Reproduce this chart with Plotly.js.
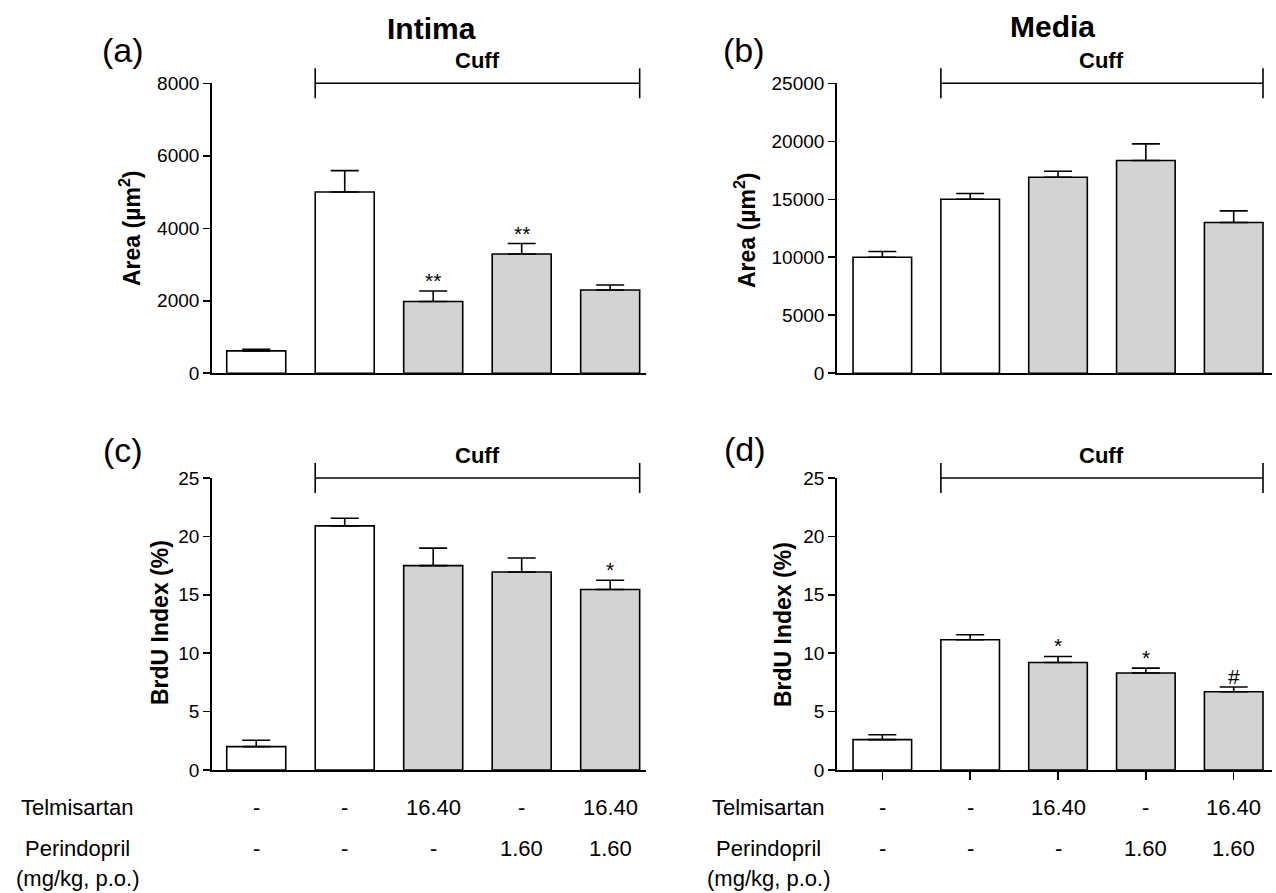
<!DOCTYPE html>
<html>
<head>
<meta charset="utf-8">
<script src="https://cdn.plot.ly/plotly-3.0.1.min.js"></script>
<style>html,body{margin:0;padding:0;background:#fff;}#chart{width:1276px;height:893px;}</style>
</head>
<body>
<div id="chart"></div>
<script>
// ---------------- DATA ----------------
const groups = ['Sham', 'Cuff + vehicle', 'Cuff + telmisartan', 'Cuff + perindopril', 'Cuff + combination'];

// (a) Intima area (µm²)
const intimaArea = [620, 5000, 1980, 3290, 2300];
const intimaAreaErr = [45, 590, 290, 290, 135];
const intimaAreaSig = ['', '', '**', '**', ''];

// (b) Media area (µm²)
const mediaArea = [10000, 15000, 16900, 18350, 13000];
const mediaAreaErr = [500, 500, 520, 1430, 1000];
const mediaAreaSig = ['', '', '', '', ''];

// (c) Intima BrdU index (%)
const intimaBrdU = [2.0, 20.9, 17.5, 16.95, 15.45];
const intimaBrdUErr = [0.55, 0.65, 1.5, 1.2, 0.8];
const intimaBrdUSig = ['', '', '', '', '*'];

// (d) Media BrdU index (%)
const mediaBrdU = [2.6, 11.15, 9.2, 8.3, 6.7];
const mediaBrdUErr = [0.42, 0.43, 0.52, 0.42, 0.4];
const mediaBrdUSig = ['', '', '*', '*', '#'];

// tick values
const areaTicksIntima = [0, 2000, 4000, 6000, 8000];
const areaTicksMedia = [0, 5000, 10000, 15000, 20000, 25000];
const brduTicks = [0, 5, 10, 15, 20, 25];

// treatment table
const telmisartanDose = ['-', '-', '16.40', '-', '16.40'];
const perindoprilDose = ['-', '-', '-', '1.60', '1.60'];
const rowLabels = ['Telmisartan', 'Perindopril', '(mg/kg, p.o.)'];
const cuffGroups = [1, 4];   // first and last cuffed group index

// ---------------- STYLE / LAYOUT ----------------
const W = 1276, H = 893;
const FONT = 'Liberation Sans, Arial, Helvetica, sans-serif';
const fillColors = ['#ffffff', '#ffffff', '#d3d3d3', '#d3d3d3', '#d3d3d3'];
const barW = 0.667;
const fx = px => px / W;
const fy = py => 1 - py / H;

const panels = [
  {id: '',  values: intimaArea, err: intimaAreaErr, sig: intimaAreaSig, ticks: areaTicksIntima,
   xpx: [212, 646], ypx: [83.3, 373.3], xr: [-0.5, 4.405], letter: '(a)', letterPos: [123, 50],
   ytitle: '<b>Area (µm<sup>2</sup>)</b>', ytPos: [130, 228], cuffY: 61, xticks: ''},
  {id: '2', values: mediaArea, err: mediaAreaErr, sig: mediaAreaSig, ticks: areaTicksMedia,
   xpx: [837, 1272], ypx: [83.3, 373.3], xr: [-0.516, 4.436], letter: '(b)', letterPos: [744, 50],
   ytitle: '<b>Area (µm<sup>2</sup>)</b>', ytPos: [745, 230], cuffY: 61, xticks: ''},
  {id: '3', values: intimaBrdU, err: intimaBrdUErr, sig: intimaBrdUSig, ticks: brduTicks,
   xpx: [212, 646], ypx: [478, 770], xr: [-0.5, 4.405], letter: '(c)', letterPos: [123, 450],
   ytitle: '<b>BrdU Index (%)</b>', ytPos: [160, 622], cuffY: 456, xticks: ''},
  {id: '4', values: mediaBrdU, err: mediaBrdUErr, sig: mediaBrdUSig, ticks: brduTicks,
   xpx: [837, 1272], ypx: [478, 770], xr: [-0.516, 4.436], letter: '(d)', letterPos: [745, 449],
   ytitle: '<b>BrdU Index (%)</b>', ytPos: [783, 625], cuffY: 456, xticks: 'outside'}
];

const traces = [];
const layout = {
  width: W, height: H,
  margin: {l: 0, r: 0, t: 0, b: 0},
  paper_bgcolor: '#ffffff', plot_bgcolor: '#ffffff',
  showlegend: false,
  font: {family: FONT, color: '#000'},
  annotations: [], shapes: []
};

panels.forEach(p => {
  const xa = 'x' + p.id, ya = 'y' + p.id;
  traces.push({
    type: 'bar', x: groups, y: p.values, xaxis: xa, yaxis: ya, width: barW,
    marker: {color: fillColors, line: {color: '#000', width: 1.6}},
    error_y: {type: 'data', symmetric: false, array: p.err, arrayminus: p.err.map(() => 0),
              color: '#000', thickness: 1.6, width: 14},
    hoverinfo: 'skip'
  });
  layout['xaxis' + p.id] = {
    domain: [fx(p.xpx[0]), fx(p.xpx[1])], anchor: ya, type: 'category', range: p.xr,
    showline: true, linecolor: '#000', linewidth: 1.8, showgrid: false, zeroline: false,
    ticks: p.xticks, ticklen: 8, tickwidth: 1.6, tickcolor: '#000', showticklabels: false, fixedrange: true
  };
  layout['yaxis' + p.id] = {
    domain: [fy(p.ypx[1]), fy(p.ypx[0])], anchor: xa, range: [0, p.ticks[p.ticks.length - 1]],
    showline: true, linecolor: '#000', linewidth: 1.8, showgrid: false, zeroline: false,
    ticks: 'outside', ticklen: 7, tickwidth: 1.6, tickcolor: '#000',
    tickvals: p.ticks, ticktext: p.ticks.map(String),
    tickfont: {family: FONT, size: 19, color: '#000'}, fixedrange: true
  };
  // y title
  layout.annotations.push({xref: 'paper', yref: 'paper', x: fx(p.ytPos[0]), y: fy(p.ytPos[1]),
    text: p.ytitle, textangle: -90, showarrow: false, xanchor: 'center', yanchor: 'middle',
    font: {family: FONT, size: 23, color: '#000'}});
  // panel letter
  layout.annotations.push({xref: 'paper', yref: 'paper', x: fx(p.letterPos[0]), y: fy(p.letterPos[1]),
    text: p.letter, showarrow: false, xanchor: 'center', yanchor: 'middle',
    font: {family: FONT, size: 34, color: '#000'}});
  // Cuff bracket
  const topY = fy(p.ypx[0]);
  const xL = cuffGroups[0] - barW / 2, xR = cuffGroups[1] + barW / 2;
  const cap = 15 / H;
  layout.shapes.push({type: 'line', xref: xa, yref: 'paper', x0: xL, x1: xR, y0: topY, y1: topY,
    line: {color: '#000', width: 1.6}});
  [xL, xR].forEach(xv => layout.shapes.push({type: 'line', xref: xa, yref: 'paper', x0: xv, x1: xv,
    y0: topY - cap, y1: topY + cap, line: {color: '#000', width: 1.6}}));
  layout.annotations.push({xref: xa, yref: 'paper', x: (xL + xR) / 2, y: fy(p.cuffY),
    text: '<b>Cuff</b>', showarrow: false, xanchor: 'center', yanchor: 'middle',
    font: {family: FONT, size: 22, color: '#000'}});
  // significance marks
  p.sig.forEach((s, i) => {
    if (!s) return;
    layout.annotations.push({xref: xa, yref: ya, x: groups[i], y: p.values[i] + p.err[i],
      text: s, showarrow: false, xanchor: 'center', yanchor: 'bottom', yshift: -3,
      font: {family: FONT, size: 21, color: '#000'}});
  });
});

// column titles
layout.annotations.push({xref: 'paper', yref: 'paper', x: fx(431), y: fy(28), text: '<b>Intima</b>',
  showarrow: false, xanchor: 'center', yanchor: 'middle', font: {family: FONT, size: 30, color: '#000'}});
layout.annotations.push({xref: 'paper', yref: 'paper', x: fx(1052), y: fy(27), text: '<b>Media</b>',
  showarrow: false, xanchor: 'center', yanchor: 'middle', font: {family: FONT, size: 30, color: '#000'}});

// treatment table under (c) and (d)
const rowY = [807, 848, 878];
[['x3', 77], ['x4', 768]].forEach(([xa, labelX]) => {
  rowLabels.forEach((lab, r) => {
    layout.annotations.push({xref: 'paper', yref: 'paper', x: fx(labelX), y: fy(rowY[r]), text: lab,
      showarrow: false, xanchor: 'center', yanchor: 'middle', font: {family: FONT, size: 22, color: '#000'}});
  });
  [telmisartanDose, perindoprilDose].forEach((row, r) => {
    row.forEach((v, i) => {
      layout.annotations.push({xref: xa, yref: 'paper', x: groups[i], y: fy(rowY[r]), text: v,
        showarrow: false, xanchor: 'center', yanchor: 'middle', font: {family: FONT, size: 22, color: '#000'}});
    });
  });
});

Plotly.newPlot('chart', traces, layout, {displayModeBar: false, staticPlot: true});
</script>
</body>
</html>
